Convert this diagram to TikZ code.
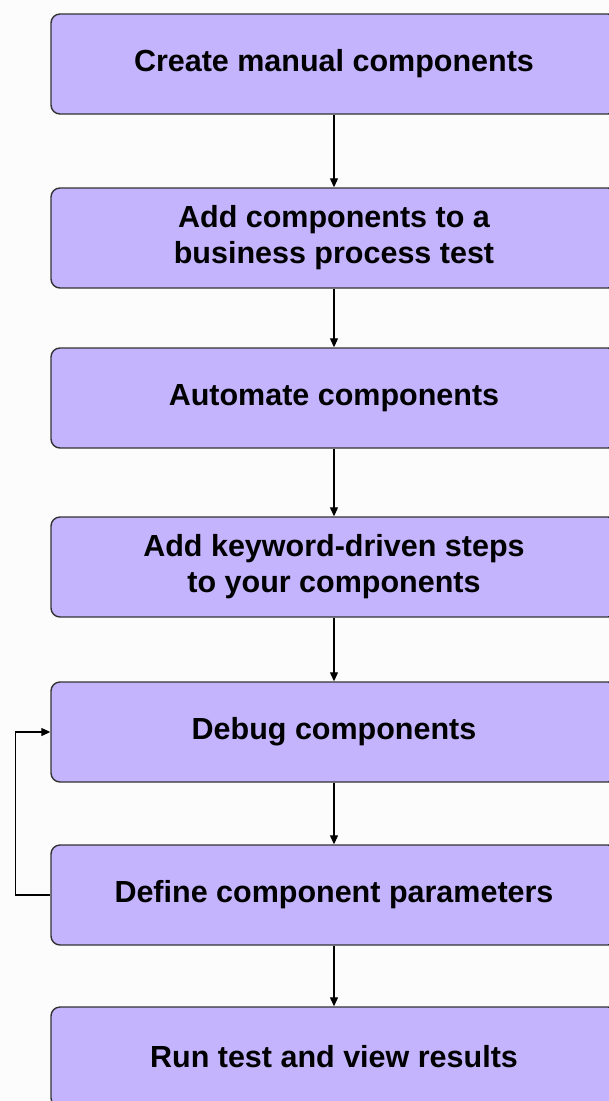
\documentclass[tikz,border=0pt]{standalone}
\usepackage{fontspec}
\setmainfont{Liberation Sans}
\usetikzlibrary{arrows.meta}
\definecolor{stagefill}{RGB}{196,180,253}

\begin{document}
\begin{tikzpicture}[x=1pt,y=-1pt,->,>={Triangle[length=9pt,width=8pt]}]
  \tikzstyle{stage}=[draw=black!80,line width=1.4pt,fill=stagefill,rounded corners=9pt,minimum width=566pt,minimum height=100pt,inner sep=0pt,align=center,font=\fontsize{30.5}{36}\selectfont\bfseries]
  \tikzstyle{flow}=[line width=1.2pt]
  \fill[black!1] (0,0) rectangle (609,1101);
  \useasboundingbox (0,0) rectangle (609,1101);

  \node[stage] (S_1) at (334,64)   {Create manual components};
  \node[stage] (S_2) at (334,238)  {Add components to a\\business process test};
  \node[stage] (S_3) at (334,398)  {Automate components};
  \node[stage] (S_4) at (334,567)  {Add keyword-driven steps\\to your components};
  \node[stage] (S_5) at (334,732)  {Debug components};
  \node[stage] (S_6) at (334,895)  {Define component parameters};
  \node[stage] (S_7) at (334,1057) {Run test and view results};

  \draw[flow] (S_1) -- (S_2);
  \draw[flow] (S_2) -- (S_3);
  \draw[flow] (S_3) -- (S_4);
  \draw[flow] (S_4) -- (S_5);
  \draw[flow] (S_5) -- (S_6);
  \draw[flow] (S_6) -- (S_7);
  \draw[flow] (S_6.west) -- ++(-35,0) |- (S_5.west);
\end{tikzpicture}
\end{document}
